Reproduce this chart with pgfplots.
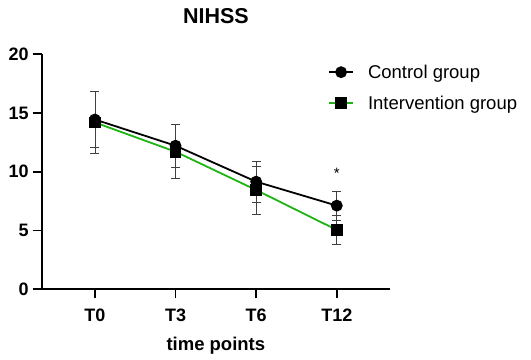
\documentclass[border=0pt]{standalone}
\usepackage{pgfplots}
\pgfplotsset{compat=1.18}
\usepackage{fontspec}
\setmainfont{Liberation Sans}
\definecolor{grn}{RGB}{30,180,20}
\begin{document}
\begin{tikzpicture}
\begin{axis}[
  name=ax, at={(0,0)}, anchor=south west,
  scale only axis, width=348.3bp, height=235bp,
  xmin=-0.66, xmax=3.66, ymin=0, ymax=20,
  axis x line*=bottom, axis y line*=left,
  axis line style={line width=1.8bp, -},
  xtick={0,1,2,3}, xticklabels={T0,T3,T6,T12},
  ytick={0,5,10,15,20},
  tick align=outside, major tick length=9bp,
  tick style={line width=1.8bp, black},
  /pgf/number format/assume math mode=true,
  ticklabel style={font=\fontsize{18bp}{18bp}\selectfont\bfseries},
  xticklabel style={anchor=base, yshift=-23bp},
  yticklabel style={xshift=-0.5bp},
  xlabel={time points},
  xlabel style={at={(axis description cs:0.5,0)}, anchor=base, yshift=-61.4bp, font=\fontsize{18.5bp}{18.5bp}\selectfont\bfseries},
  clip=false,
  legend cell align=left,
  legend style={at={(rel axis cs:0.822,0.965)}, anchor=north west, draw=none, fill=none,
    font=\fontsize{18.5bp}{18.5bp}\selectfont, row sep=12bp, inner sep=0pt,
    nodes={inner sep=2bp}},
  legend image code/.code={
    \draw[mark repeat=2,mark phase=2] plot coordinates {(0bp,0bp) (12bp,0bp) (24bp,0bp)};
  },
  error bars/error bar style={line width=0.8bp, black!75},
  error bars/error mark options={rotate=90, mark size=4.5bp, line width=0.8bp, black!75},
]
\addplot[black, line width=1.8bp, mark=*, mark size=5bp, mark options={solid, fill=black},
  error bars/.cd, y dir=both, y explicit]
  coordinates {(0,14.45) +- (0,2.35) (1,12.22) +- (0,1.85) (2,9.16) +- (0,1.76) (3,7.12) +- (0,1.25)};
\addlegendentry{\hspace{12bp}Control group}
\addplot[grn, line width=1.8bp, mark=square*, mark size=5bp, mark options={solid, fill=black, draw=black},
  error bars/.cd, y dir=both, y explicit]
  coordinates {(0,14.2) +- (0,2.6) (1,11.71) +- (0,2.3) (2,8.45) +- (0,2.04) (3,5.05) +- (0,1.22)};
\addlegendentry{\hspace{12bp}Intervention group}
\node[font=\fontsize{15bp}{15bp}\selectfont, anchor=center] at (axis cs:3,9.9) {*};
\node[font=\fontsize{21.5bp}{21.5bp}\selectfont\bfseries, anchor=base] at (rel axis cs:0.5,1) [yshift=31bp] {NIHSS};
\end{axis}
\pgfresetboundingbox
\path[use as bounding box] (-41.7bp,-70.7bp) rectangle (489.3bp,289.3bp);
\end{tikzpicture}
\end{document}
